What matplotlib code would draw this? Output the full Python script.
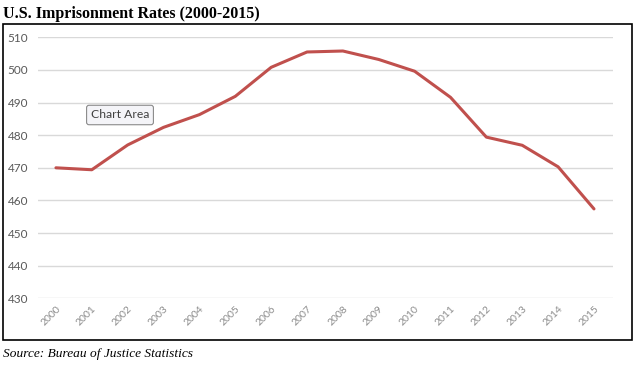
import matplotlib
matplotlib.use("Agg")
import matplotlib.pyplot as plt
from matplotlib.patches import Rectangle

years = [str(y) for y in range(2000, 2016)]
rates = [470.0, 469.4, 477.0, 482.4, 486.3, 491.9, 500.8, 505.5,
         505.8, 503.2, 499.6, 491.6, 479.4, 476.9, 470.3, 457.4]
y_ticks = [430, 440, 450, 460, 470, 480, 490, 500, 510]

W, H = 639, 366
fig = plt.figure(figsize=(W / 100, H / 100), dpi=100)

def fx(px):
    return px / W

def fy(py):
    return 1 - py / H

ax = fig.add_axes([fx(38), fy(298.3), fx(613) - fx(38), fy(37.3) - fy(298.3)])
x = list(range(len(years)))
ax.plot(x, rates, color="#c0504d", linewidth=2.2, solid_capstyle="round",
        solid_joinstyle="round", zorder=3)
ax.set_xlim(-0.5, 15.53)
ax.set_ylim(430, 510)
ax.set_yticks(y_ticks)
ax.set_xticks(x)
ax.set_xticklabels(years, rotation=45, ha="right", va="top",
                   rotation_mode="anchor", family="Lato", fontsize=7.5,
                   color="#8c8c8c")
ax.set_yticklabels([str(v) for v in y_ticks], family="Lato", fontsize=8.5,
                   color="#595959")
ax.tick_params(axis="both", length=0)
ax.tick_params(axis="y", pad=7)
ax.tick_params(axis="x", pad=4)
ax.yaxis.grid(True, color="#d9d9d9", linewidth=1)
ax.set_axisbelow(True)
for s in ax.spines.values():
    s.set_visible(False)

# outer chart frame
fig.patches.append(Rectangle((fx(3), fy(340)), fx(632) - fx(3), fy(24) - fy(340),
                             transform=fig.transFigure, fill=False,
                             edgecolor="black", linewidth=1.2))

fig.text(fx(3), fy(18), "U.S. Imprisonment Rates (2000-2015)",
         family="Liberation Serif", fontweight="bold", fontsize=11.5,
         ha="left", va="baseline")
fig.text(fx(3), fy(357), "Source: Bureau of Justice Statistics",
         family="Liberation Serif", style="italic", fontsize=9.6,
         ha="left", va="baseline")

# tooltip
fig.text(fx(120), fy(115), "Chart Area", family="Lato", fontsize=8.7,
         color="#404040", ha="center", va="center",
         bbox=dict(boxstyle="round,pad=0.35,rounding_size=0.2",
                   facecolor="#f4f4f8", edgecolor="#8a8a8a", linewidth=0.8))

fig.savefig("out.png", dpi=100)
